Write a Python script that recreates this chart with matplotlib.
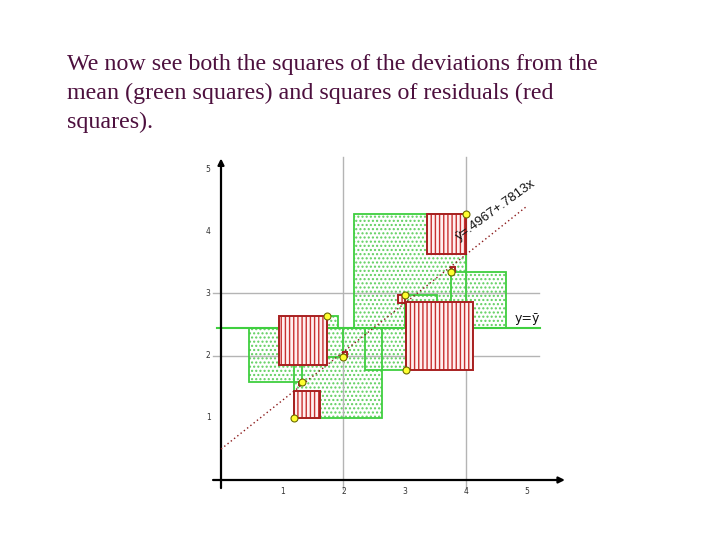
import matplotlib
matplotlib.use("Agg")
import matplotlib.pyplot as plt
from matplotlib.patches import Rectangle

# ---- data ----
x_vals = [1.19, 1.32, 1.73, 1.99, 3.01, 3.03, 3.75, 4.01]
y_vals = [1.00, 1.58, 2.63, 1.98, 2.97, 1.77, 3.35, 4.28]
green_side = [1, -1, 1, -1, 1, -1, 1, -1]   # +1: square drawn to the right of the point
intercept = 0.4967
slope = 0.7813
x_ticks = [1, 2, 3, 4, 5]
y_ticks = [1, 2, 3, 4, 5]
grid_x = [2, 4]
grid_y = [2, 3]
title_lines = ["We now see both the squares of the deviations from the",
               "mean (green squares) and squares of residuals (red",
               "squares)."]
eq_label = "ŷ=.4967+.7813x"
mean_label = "y=ȳ"

plt.rcParams['hatch.linewidth'] = 1.0

fig = plt.figure(figsize=(7.2, 5.4), dpi=100)
fig.patch.set_facecolor("white")

# title text
for i, line in enumerate(title_lines):
    fig.text(67 / 720, 1 - (70 + 29 * i) / 540, line, family="Liberation Serif",
             fontsize=17.3, color="#4d103e", ha="left", va="baseline")

# axes placed so that data units map to the reference pixels
ax = fig.add_axes([180 / 720, 40 / 540, 400 / 720, 350 / 540])
ax.set_xlim((180 - 221) / 61.2, (580 - 221) / 61.2)
ax.set_ylim((480 - 500) / 62.2, (480 - 150) / 62.2)
ax.axis("off")

ybar = sum(y_vals) / len(y_vals)

green_edge = "#3fcf3f"
green_dot = "#5fcf5f"
red_edge = "#a82020"
red_hatch = "#c83030"

# green squares (deviation from the mean)
for xi, yi, side in zip(x_vals, y_vals, green_side):
    s = abs(yi - ybar)
    x0 = xi if side > 0 else xi - s
    y0 = min(yi, ybar)
    ax.add_patch(Rectangle((x0, y0), s, s, facecolor="white", edgecolor=green_dot,
                           hatch="....", linewidth=0, zorder=1))
    ax.add_patch(Rectangle((x0, y0), s, s, facecolor="none", edgecolor=green_edge,
                           linewidth=1.3, zorder=2))

# grid lines
for gx in grid_x:
    ax.plot([gx, gx], [-0.15, 5.2], color="#b4b4b4", lw=1, zorder=1.5)
for gy in grid_y:
    ax.plot([-0.13, 5.2], [gy, gy], color="#b4b4b4", lw=1, zorder=1.5)

# mean line
ax.plot([-0.07, 5.21], [ybar, ybar], color=green_edge, lw=1.5, zorder=2)

# red squares (residuals)
for xi, yi in zip(x_vals, y_vals):
    yhat = intercept + slope * xi
    r = yi - yhat
    s = abs(r)
    x0 = xi - s if r > 0 else xi
    y0 = min(yi, yhat)
    ax.add_patch(Rectangle((x0, y0), s, s, facecolor="#fff0f0", edgecolor=red_hatch,
                           hatch="||||", linewidth=0, zorder=3))
    ax.add_patch(Rectangle((x0, y0), s, s, facecolor="none", edgecolor=red_edge,
                           linewidth=1.4, zorder=3.1))

# axes with arrows
ax.annotate("", xy=(5.62, 0), xytext=(-0.13, 0),
            arrowprops=dict(arrowstyle="-|>", lw=1.6, color="black", mutation_scale=9,
                            shrinkA=0, shrinkB=0), zorder=4)
ax.annotate("", xy=(0, 5.17), xytext=(0, -0.13),
            arrowprops=dict(arrowstyle="-|>", lw=1.6, color="black", mutation_scale=9,
                            shrinkA=0, shrinkB=0), zorder=4)

for t in x_ticks:
    ax.text(t, -0.18, str(t), fontsize=5.5, color="#333333", ha="center", va="center")
for t in y_ticks:
    ax.text(-0.21, t, str(t), fontsize=5.5, color="#333333", ha="center", va="center")

# regression line
ax.plot([0, 5], [intercept, intercept + slope * 5], color="#8b1a1a", lw=1,
        linestyle=(0, (1, 2)), zorder=5)

# points
ax.plot(x_vals, y_vals, linestyle="none", marker="o", markersize=5,
        markerfacecolor="#ffff30", markeredgecolor="#6b6b00", markeredgewidth=0.8, zorder=6)

# labels
ax.text(4.50, 4.33, eq_label, family="Liberation Sans", fontsize=9.5, rotation=36,
        ha="center", va="center", color="#111111", zorder=7)
ax.text(4.80, ybar + 0.04, mean_label, family="DejaVu Sans", fontsize=9,
        ha="left", va="bottom", color="#111111", zorder=7)

fig.savefig("out.png", dpi=100, facecolor="white")
